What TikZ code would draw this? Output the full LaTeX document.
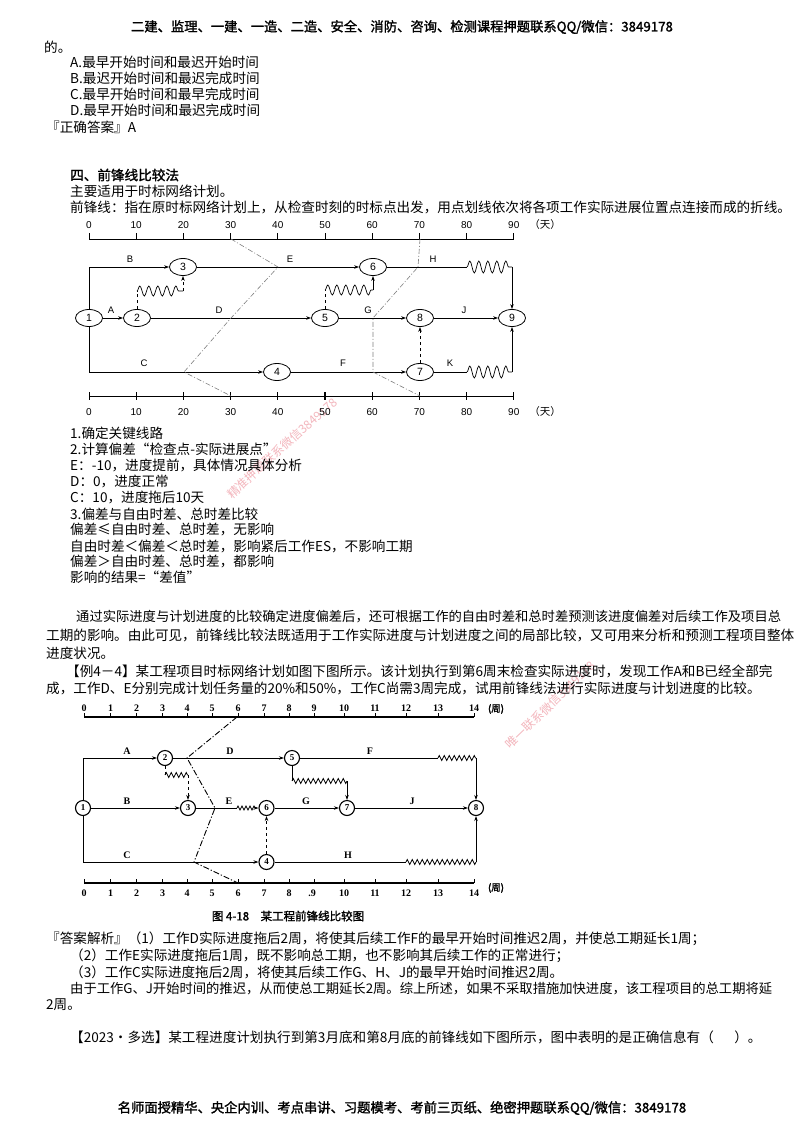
\documentclass[tikz,border=0pt]{standalone}
\usepackage{fontspec}
\setmainfont{Noto Sans CJK SC}
\newfontfamily\cjkb{Noto Sans CJK SC}[FakeBold=1.6]
\newfontfamily\lsans{Liberation Sans}
\newfontfamily\lserif{Liberation Serif}
\usetikzlibrary{shapes.geometric,arrows.meta,decorations.pathmorphing}
\definecolor{wmpink}{RGB}{238,150,160}
\tikzset{
 txt/.style={anchor=west,inner sep=0pt,font=\fontsize{13.6}{16}\selectfont},
 ev/.style={draw,ellipse,minimum width=27pt,minimum height=17pt,inner sep=0pt,line width=0.8pt,font=\lsans\fontsize{10.5}{10.5}\selectfont},
 arr/.style={line width=0.7pt,-{Stealth[length=5pt,width=3.5pt]}},
 ln/.style={line width=0.7pt},
 wav/.style={line width=0.7pt,decorate,decoration={snake,amplitude=6pt,segment length=9pt}},
 lab/.style={font=\lsans\fontsize{9.5}{9.5}\selectfont,inner sep=0pt},
 fl/.style={gray,line width=0.6pt,dash pattern=on 5pt off 2pt on 1pt off 2pt},
 ev2/.style={draw,circle,minimum size=15pt,inner sep=0pt,line width=1.1pt,font=\lserif\bfseries\fontsize{9}{9}\selectfont},
 arr2/.style={line width=0.8pt,-{Stealth[length=5pt,width=3.5pt]}},
 ln2/.style={line width=0.8pt},
 zz/.style={line width=0.8pt,decorate,decoration={zigzag,amplitude=2.5pt,segment length=5pt}},
 lab2/.style={font=\lserif\bfseries\fontsize{10}{10}\selectfont,inner sep=0pt},
 fl2/.style={black,line width=0.9pt,dash pattern=on 6pt off 2pt on 1.2pt off 2pt},
 wm/.style={text=wmpink,opacity=0.7,font=\fontsize{12}{12}\selectfont,inner sep=0pt},
}
\begin{document}
\begin{tikzpicture}[x=1pt,y=-1pt]
\fill[white] (0,0) rectangle (800,1132);
\useasboundingbox (0,0) rectangle (800,1132);

% watermarks
\node[wm,rotate=42] (wm1) at (282,448) {精准押题联系微信3849178};
\node[wm,rotate=44] (wm2) at (550,705) {唯一联系微信3849178};

% header / footer
\node[font=\cjkb\fontsize{13.3}{14}\selectfont,inner sep=0pt] (hdr) at (402,27) {二建、监理、一建、一造、二造、安全、消防、咨询、检测课程押题联系QQ/微信：3849178};
\node[font=\cjkb\fontsize{13.3}{14}\selectfont,inner sep=0pt] (ftr) at (402,1108) {名师面授精华、央企内训、考点串讲、习题模考、考前三页纸、绝密押题联系QQ/微信：3849178};

% top text
\node[txt] (t1) at (44,47) {的。};
\node[txt] (t2) at (70,62) {A.最早开始时间和最迟开始时间};
\node[txt] (t3) at (70,78) {B.最迟开始时间和最迟完成时间};
\node[txt] (t4) at (70,94) {C.最早开始时间和最早完成时间};
\node[txt] (t5) at (70,110) {D.最早开始时间和最迟完成时间};
\node[txt] (t6) at (46,127) {『正确答案』A};
\node[txt,font=\cjkb\fontsize{13.6}{16}\selectfont] (t7) at (70,175) {四、前锋线比较法};
\node[txt] (t8) at (70,191) {主要适用于时标网络计划。};
\node[txt] (t9) at (70,207) {前锋线：指在原时标网络计划上，从检查时刻的时标点出发，用点划线依次将各项工作实际进展位置点连接而成的折线。};

% ===== diagram 1 =====
\draw[line width=0.8pt] (89,239) -- (514,239);
\draw[line width=0.8pt] (89,396) -- (514,396);
\foreach \v in {0,10,...,90} {
  \draw[line width=0.8pt] ({89+4.72*\v},233) -- ({89+4.72*\v},239);
  \draw[line width=0.8pt] ({89+4.72*\v},392) -- ({89+4.72*\v},400);
  \node[lab,font=\lsans\fontsize{10}{10}\selectfont] at ({89+4.72*\v},225) {\v};
  \node[lab,font=\lsans\fontsize{10}{10}\selectfont] at ({89+4.72*\v},412) {\v};
}
\draw[line width=1.6pt] (325,392) -- (325,400);
\node[lab,font=\fontsize{10.5}{10.5}\selectfont] (day1) at (545,225) {（天）};
\node[lab,font=\fontsize{10.5}{10.5}\selectfont] (day2) at (545,412) {（天）};

\node[ev] (n1) at (89,318) {1};
\node[ev] (n2) at (137,318) {2};
\node[ev] (n3) at (183,267) {3};
\node[ev] (n4) at (277,372) {4};
\node[ev] (n5) at (325,318) {5};
\node[ev] (n6) at (373,267) {6};
\node[ev] (n7) at (420,372) {7};
\node[ev] (n8) at (420,318) {8};
\node[ev] (n9) at (512,318) {9};

\coordinate (w2a) at (137,291);
\coordinate (w2b) at (183,291);
\coordinate (w5a) at (325,290);
\coordinate (w5b) at (373,290);
\coordinate (h80) at (467,267);
\coordinate (h90) at (512,267);
\coordinate (k80) at (467,372);
\coordinate (k90) at (512,372);

\draw[arr] (n1) |- (n3);
\draw[arr] (n1) |- (n4);
\draw[arr] (n1) -- (n2);
\draw[arr] (n2) -- (n5);
\draw[arr] (n3) -- (n6);
\draw[arr] (n4) -- (n7);
\draw[arr] (n5) -- (n8);
\draw[arr] (n8) -- (n9);
\draw[ln] (n6) -- (h80);
\draw[wav] (h80) -- (h90);
\draw[arr] (h90) -- (n9);
\draw[ln] (n7) -- (k80);
\draw[wav] (k80) -- (k90);
\draw[arr] (k90) -- (n9);
\draw[arr,dashed] (n7) -- (n8);
\draw[ln,dashed] (n2) -- (w2a);
\draw[wav,decoration={snake,amplitude=5pt,segment length=9pt}] (w2a) -- (w2b);
\draw[arr,dashed] (w2b) -- (n3);
\draw[ln,dashed] (n5) -- (w5a);
\draw[wav,decoration={snake,amplitude=5pt,segment length=9pt}] (w5a) -- (w5b);
\draw[arr] (w5b) -- (n6);

\node[lab] (lB) at (130,259) {B};
\node[lab] (lA) at (111,310) {A};
\node[lab] (lC) at (144,363) {C};
\node[lab] (lD) at (219,310) {D};
\node[lab] (lE) at (290,259) {E};
\node[lab] (lF) at (343,363) {F};
\node[lab] (lG) at (368,310) {G};
\node[lab] (lH) at (433,259) {H};
\node[lab] (lJ) at (464,310) {J};
\node[lab] (lK) at (450,363) {K};

\coordinate (p0) at (231,239);
\coordinate (p1) at (278,267);
\coordinate (p2) at (231,318);
\coordinate (p3) at (184,372);
\coordinate (p4) at (231,396);
\coordinate (r0) at (420,239);
\coordinate (r1) at (418,267);
\coordinate (r2) at (373,318);
\coordinate (r3) at (373,372);
\coordinate (r4) at (420,396);
\draw[fl] (p0) -- (p1) -- (p2) -- (p3) -- (p4);
\draw[fl] (r0) -- (r1) -- (r2) -- (r3) -- (r4);

% list
\node[txt] (l1) at (70,433) {1.确定关键线路};
\node[txt] (l2) at (70,449) {2.计算偏差“检查点-实际进展点”};
\node[txt] (l3) at (70,465) {E：-10，进度提前，具体情况具体分析};
\node[txt] (l4) at (70,481) {D：0，进度正常};
\node[txt] (l5) at (70,497) {C：10，进度拖后10天};
\node[txt] (l6) at (70,514) {3.偏差与自由时差、总时差比较};
\node[txt] (l7) at (70,529) {偏差≤自由时差、总时差，无影响};
\node[txt] (l8) at (70,546) {自由时差＜偏差＜总时差，影响紧后工作ES，不影响工期};
\node[txt] (l9) at (70,561) {偏差＞自由时差、总时差，都影响};
\node[txt] (l10) at (70,577) {影响的结果=“差值”};

% paragraph
\node[txt,font=\fontsize{13.3}{16}\selectfont] (q1) at (76,617) {通过实际进度与计划进度的比较确定进度偏差后，还可根据工作的自由时差和总时差预测该进度偏差对后续工作及项目总};
\node[txt] (q2) at (46,635) {工期的影响。由此可见，前锋线比较法既适用于工作实际进度与计划进度之间的局部比较，又可用来分析和预测工程项目整体};
\node[txt] (q3) at (46,653) {进度状况。};
\node[txt] (q4) at (66,671) {【例4－4】某工程项目时标网络计划如图下图所示。该计划执行到第6周末检查实际进度时，发现工作A和B已经全部完};
\node[txt] (q5) at (46,688) {成，工作D、E分别完成计划任务量的20\%和50\%，工作C尚需3周完成，试用前锋线法进行实际进度与计划进度的比较。};

% ===== diagram 2 =====
\draw[line width=1.2pt] (84,717) -- (474,717);
\draw[line width=1.2pt] (84,883) -- (474,883);
\foreach \x [count=\i from 0] in {84,110.5,136.5,162.5,187,212,238,264,289,314,344,375,406,438,474} {
  \draw[line width=0.8pt] (\x,713) -- (\x,717);
  \draw[line width=0.8pt] (\x,879) -- (\x,883);
  \node[lab2] at (\x,708) {\i};
}
\foreach \x [count=\i from 0] in {84,110.5,136.5,162.5,187,212,238,264,289} {
  \node[lab2] at (\x,893) {\i};
}
\foreach \x/\l in {344/10,375/11,406/12,438/13,474/14} {
  \node[lab2] at (\x,893) {\l};
}
\node[lab2] (nine) at (312,893) {.9};
\node[lab2,font=\cjkb\fontsize{9.5}{9.5}\selectfont] (wk1) at (496,709) {(周)};
\node[lab2,font=\cjkb\fontsize{9.5}{9.5}\selectfont] (wk2) at (496,888) {(周)};

\node[ev2] (m1) at (83,808) {1};
\node[ev2] (m2) at (165,758) {2};
\node[ev2] (m3) at (188,808) {3};
\node[ev2] (m4) at (266.5,862) {4};
\node[ev2] (m5) at (292,758) {5};
\node[ev2] (m6) at (266.5,808) {6};
\node[ev2] (m7) at (347,808) {7};
\node[ev2] (m8) at (476,808) {8};

\coordinate (e1) at (237,808);
\coordinate (e2) at (255,808);
\coordinate (v5a) at (292,781);
\coordinate (v5b) at (347,781);
\coordinate (v2a) at (165,775);
\coordinate (v2b) at (188,775);
\coordinate (f13) at (438,758);
\coordinate (f14) at (476,758);
\coordinate (h12) at (406,862);
\coordinate (h14) at (476,862);

\draw[arr2] (m1) |- (m2);
\draw[arr2] (m1) -- (m3);
\draw[arr2] (m1) |- (m4);
\draw[arr2] (m2) -- (m5);
\draw[ln2] (m5) -- (f13);
\draw[zz] (f13) -- (f14);
\draw[arr2] (f14) -- (m8);
\draw[ln2,dashed] (m2) -- (v2a);
\draw[zz] (v2a) -- (v2b);
\draw[arr2,dashed] (v2b) -- (m3);
\draw[ln2] (m3) -- (e1);
\draw[zz,decoration={zigzag,amplitude=2pt,segment length=4pt}] (e1) -- (e2);
\draw[arr2] (e2) -- (m6);
\draw[ln2] (m5) -- (v5a);
\draw[zz] (v5a) -- (v5b);
\draw[arr2] (v5b) -- (m7);
\draw[arr2] (m6) -- (m7);
\draw[arr2] (m7) -- (m8);
\draw[ln2] (m4) -- (h12);
\draw[zz] (h12) -- (h14);
\draw[arr2] (h14) -- (m8);
\draw[arr2,dashed] (m4) -- (m6);

\node[lab2] (la2) at (127,751) {A};
\node[lab2] (ld2) at (230,751) {D};
\node[lab2] (lf2) at (370,751) {F};
\node[lab2] (lb2) at (127,801) {B};
\node[lab2] (le2) at (229,801) {E};
\node[lab2] (lg2) at (306,801) {G};
\node[lab2] (lj2) at (412,801) {J};
\node[lab2] (lc2) at (127,855) {C};
\node[lab2] (lh2) at (348,855) {H};

\coordinate (s0) at (237,717);
\coordinate (s1) at (187,758);
\coordinate (s2) at (215,808);
\coordinate (s3) at (194,862);
\coordinate (s4) at (238,883);
\draw[fl2] (s0) -- (s1) -- (s2) -- (s3) -- (s4);

\node[font=\cjkb\fontsize{11.5}{12}\selectfont,inner sep=0pt] (cap) at (288,916) {图 4-18\quad 某工程前锋线比较图};

% answer
\node[txt] (a1) at (46,939) {『答案解析』（1）工作D实际进度拖后2周，将使其后续工作F的最早开始时间推迟2周，并使总工期延长1周；};
\node[txt] (a2) at (70,956) {（2）工作E实际进度拖后1周，既不影响总工期，也不影响其后续工作的正常进行；};
\node[txt] (a3) at (70,972) {（3）工作C实际进度拖后2周，将使其后续工作G、H、J的最早开始时间推迟2周。};
\node[txt,font=\fontsize{13.3}{16}\selectfont] (a4) at (70,989) {由于工作G、J开始时间的推迟，从而使总工期延长2周。综上所述，如果不采取措施加快进度，该工程项目的总工期将延};
\node[txt] (a5) at (46,1005) {2周。};
\node[txt] (a6) at (70,1037) {【2023·多选】某工程进度计划执行到第3月底和第8月底的前锋线如下图所示，图中表明的是正确信息有（\hspace{1.5em}）。};
\end{tikzpicture}
\end{document}
